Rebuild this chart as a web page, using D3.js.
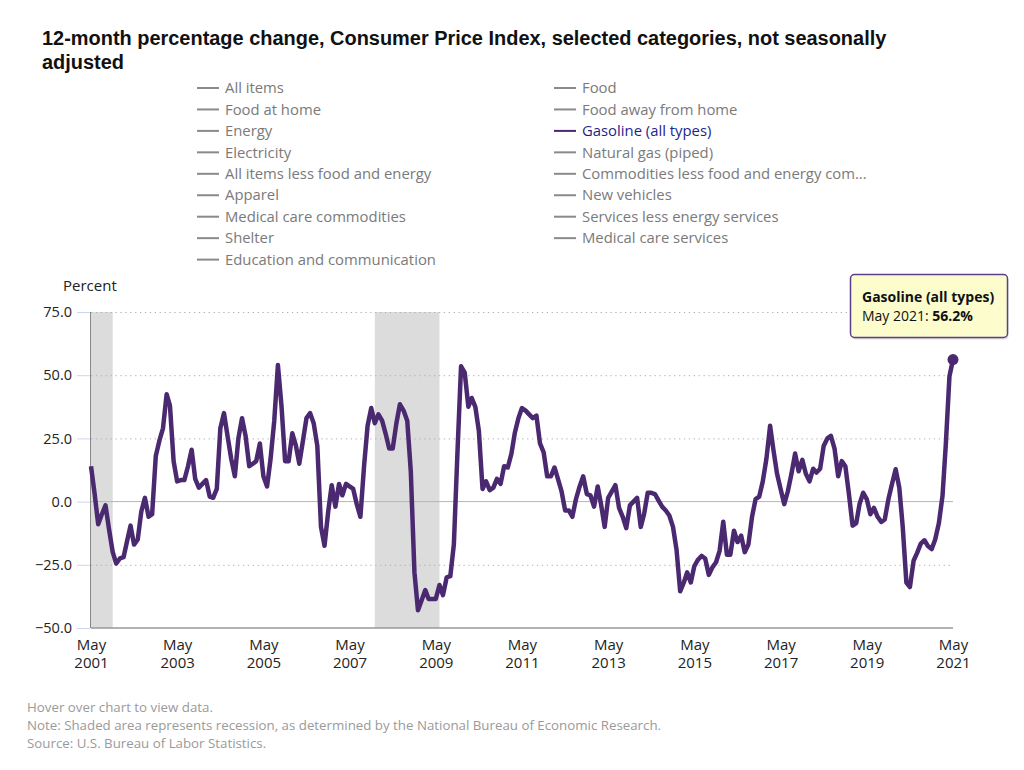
<!DOCTYPE html>
<html>
<head>
<meta charset="utf-8">
<script src="https://cdn.jsdelivr.net/npm/d3@7/dist/d3.min.js"></script>
<style>
  body { margin: 0; background: #fff; }
  svg { display: block; font-family: "Open Sans", sans-serif; }
</style>
</head>
<body>
<svg id="chart" width="1024" height="770"></svg>
<script>
// first month of the series, values are monthly from here on
var startMonth = new Date(2001, 4, 1);

// Gasoline (all types), 12-month % change, May 2001 - May 2021
var gasoline = [
  14, 3, -9, -5, -1.5, -11, -20, -24.5,                         // 2001 May-Dec
  -22.5, -22, -16, -9.5, -17, -15, -4, 1.5, -6, -5, 18, 24,      // 2002
  29, 42.5, 38, 16, 8, 8.5, 8.5, 14, 20.5, 9, 5.5, 7,            // 2003
  8.5, 2, 1.5, 5, 29, 35, 26, 17, 10, 25, 33, 26,                // 2004
  14, 15, 16, 23, 10, 6, 17, 32, 54, 38, 16, 16,                 // 2005
  27, 22, 15, 24, 33, 35, 31, 22, -10, -17.5, -4, 6.5,           // 2006
  -2, 7, 2.5, 7, 6, 5, -1, -6, 14, 30, 37, 31,                   // 2007
  34.5, 32, 27, 21, 21, 31, 38.5, 36, 32, 12, -28, -43,          // 2008
  -39, -35, -38.5, -38.5, -38.5, -33, -37, -30, -29.5, -17, 20, 53.5, // 2009
  51, 37.5, 41, 37.5, 28, 5, 8, 4.5, 5.5, 9, 7, 14,              // 2010
  13.5, 19, 27, 33, 37, 36, 34.5, 33, 34, 23, 19.5, 10,          // 2011
  10, 13.5, 9, 4, -3.5, -3.5, -6, 1, 6, 10, 3, 2.5,              // 2012
  -2, 6, -1, -10, 1.5, 4, 6.5, -2.5, -6, -10.5, -1.5, 0,         // 2013
  1.5, -10, -5, 3.5, 3.5, 3, 0.5, -2, -3.5, -5.5, -10, -19,      // 2014
  -35.5, -32, -28, -32, -25.5, -23, -21.5, -22.5, -29, -26, -24, -19.5, // 2015
  -8, -21, -21, -11.5, -16, -13.5, -20, -17, -6, 1, 2, 8,        // 2016
  17, 30, 20.5, 11, 5, -1, 4, 11, 19, 12, 16.5, 11,              // 2017
  8, 13, 11.5, 13, 22, 25, 26, 21, 10, 16, 14, 3,                // 2018
  -9.5, -8.5, -1, 3.5, 1, -5, -2.5, -6, -8, -7, 1, 7,            // 2019
  12.8, 5.5, -10, -32, -33.8, -23.4, -20.3, -16.6, -15.3, -17.6, -18.8, -15, // 2020
  -8.6, 2.2, 22.5, 49.6, 56.2                                    // 2021 Jan-May
];

var seriesName = "Gasoline (all types)";
var legendLeft = ["All items", "Food at home", "Energy", "Electricity",
  "All items less food and energy", "Apparel", "Medical care commodities",
  "Shelter", "Education and communication"];
var legendRight = ["Food", "Food away from home", "Gasoline (all types)",
  "Natural gas (piped)", "Commodities less food and energy com...",
  "New vehicles", "Services less energy services", "Medical care services"];

var yTicks = [-50, -25, 0, 25, 50, 75];
var xTickYears = [2001, 2003, 2005, 2007, 2009, 2011, 2013, 2015, 2017, 2019, 2021];
var recessions = [
  [new Date(2001, 2, 1), new Date(2001, 10, 1)],
  [new Date(2007, 11, 1), new Date(2009, 5, 1)]
];
var titleLines = ["12-month percentage change, Consumer Price Index, selected categories, not seasonally",
  "adjusted"];
var notes = ["Hover over chart to view data.",
  "Note: Shaded area represents recession, as determined by the National Bureau of Economic Research.",
  "Source: U.S. Bureau of Labor Statistics."];

window.onload = function() {
  var svg = d3.select("#chart"),
      lineColor = "#4a2970",
      plot = {left: 91, right: 953, top: 312, bottom: 628};

  var data = gasoline.map(function(v, i) {
    return {date: d3.timeMonth.offset(startMonth, i), value: v};
  });
  var last = data[data.length - 1];

  var x = d3.scaleTime()
      .domain([startMonth, last.date])
      .range([plot.left, plot.right]);
  var y = d3.scaleLinear()
      .domain([-50, 75])
      .range([plot.bottom, plot.top]);

  // title
  svg.append("g").selectAll("text")
    .data(titleLines)
    .enter().append("text")
      .attr("x", 42)
      .attr("y", function(d, i) { return 45 + i * 24; })
      .attr("font-family", "'Liberation Sans', Arial, sans-serif")
      .attr("font-weight", "bold")
      .attr("font-size", 19.95)
      .attr("fill", "#111")
      .text(function(d) { return d; });

  // legend, two columns
  function legendColumn(names, x0) {
    var item = svg.append("g").selectAll("g")
      .data(names)
      .enter().append("g")
        .attr("transform", function(d, i) { return "translate(" + x0 + "," + (88 + i * 21.45) + ")"; });
    item.append("line")
      .attr("x1", 0).attr("x2", 22)
      .attr("stroke", function(d) { return d === seriesName ? lineColor : "#8a8a8a"; })
      .attr("stroke-width", 2);
    item.append("text")
      .attr("x", 28)
      .attr("dy", "0.35em")
      .attr("font-size", 14.85)
      .attr("fill", function(d) { return d === seriesName ? "#1f1f8a" : "#7a7a7a"; })
      .text(function(d) { return d; });
  }
  legendColumn(legendLeft, 197);
  legendColumn(legendRight, 554);

  // recession shading
  svg.append("g").selectAll("rect")
    .data(recessions)
    .enter().append("rect")
      .attr("x", function(d) { return x(d3.max([d[0], startMonth])); })
      .attr("y", plot.top)
      .attr("width", function(d) { return x(d[1]) - x(d3.max([d[0], startMonth])); })
      .attr("height", plot.bottom - plot.top)
      .attr("fill", "#dcdcdc");

  // dotted grid
  var grid = svg.append("g")
      .attr("transform", "translate(" + plot.left + ",0)")
      .call(d3.axisLeft(y).tickValues(yTicks.filter(function(d) { return d !== 0 && d !== -50; }))
        .tickSize(-(plot.right - plot.left)).tickFormat(""));
  grid.select(".domain").remove();
  grid.selectAll(".tick line")
      .attr("stroke", "#b0b0b0")
      .attr("stroke-dasharray", "1.3,3.6");

  // zero line, bottom and left axis lines
  svg.append("line")
      .attr("x1", plot.left).attr("x2", plot.right)
      .attr("y1", y(0)).attr("y2", y(0))
      .attr("stroke", "#b5b5b5");
  svg.append("line")
      .attr("x1", plot.left).attr("x2", plot.right)
      .attr("y1", y(-50)).attr("y2", y(-50))
      .attr("stroke", "#999").attr("stroke-width", 1.5);
  svg.append("line")
      .attr("x1", plot.left - 0.5).attr("x2", plot.left - 0.5)
      .attr("y1", plot.top).attr("y2", plot.bottom)
      .attr("stroke", "#888");

  // y axis
  var yAxis = svg.append("g")
      .attr("transform", "translate(" + (plot.left - 1) + ",0)")
      .call(d3.axisLeft(y).tickValues(yTicks).tickFormat(d3.format(".1f")).tickSize(13).tickPadding(5));
  yAxis.select(".domain").remove();
  yAxis.selectAll(".tick line").attr("stroke", "#ccd6eb");
  yAxis.selectAll(".tick text")
      .attr("font-family", "'Open Sans', sans-serif")
      .attr("font-size", 14.5)
      .attr("fill", "#222");

  svg.append("text")
      .attr("x", 63).attr("y", 291)
      .attr("font-size", 15)
      .attr("fill", "#222")
      .text("Percent");

  // x axis: month on one row, year below, in one text element
  var xAxis = svg.append("g")
      .attr("transform", "translate(0," + plot.bottom + ")")
      .call(d3.axisBottom(x)
        .tickValues(xTickYears.map(function(yr) { return new Date(yr, 4, 1); }))
        .tickFormat("").tickSize(0));
  xAxis.select(".domain").remove();
  xAxis.selectAll(".tick text").remove();
  var lbl = xAxis.selectAll(".tick").append("text")
      .attr("fill", "#222")
      .attr("text-anchor", "middle")
      .attr("font-family", "'Open Sans', sans-serif")
      .attr("font-size", 15);
  lbl.append("tspan")
      .attr("x", 0).attr("y", 22)
      .text(d3.timeFormat("%b"));
  lbl.append("tspan")
      .attr("x", 0).attr("y", 40)
      .text(d3.timeFormat("%Y"));

  // the series
  var line = d3.line()
      .x(function(d) { return x(d.date); })
      .y(function(d) { return y(d.value); });
  svg.append("path")
      .datum(data)
      .attr("fill", "none")
      .attr("stroke", lineColor)
      .attr("stroke-width", 4.5)
      .attr("stroke-linejoin", "round")
      .attr("d", line);

  svg.append("circle")
      .attr("cx", x(last.date))
      .attr("cy", y(last.value))
      .attr("r", 5.5)
      .attr("fill", lineColor);

  // tooltip for the last point
  var tip = svg.append("g").attr("transform", "translate(850.5,274.5)");
  tip.append("rect")
      .attr("x", 1).attr("y", 2)
      .attr("width", 157).attr("height", 63).attr("rx", 4)
      .attr("fill", "rgba(0,0,0,0.12)");
  tip.append("rect")
      .attr("width", 157).attr("height", 63).attr("rx", 4)
      .attr("fill", "#fcfccc")
      .attr("stroke", "#5b3f8a")
      .attr("stroke-width", 1.5);
  tip.append("text")
      .attr("x", 11.5).attr("y", 27.5)
      .attr("font-size", 14)
      .attr("font-weight", "bold")
      .attr("fill", "#111")
      .text(seriesName);
  var t2 = tip.append("text")
      .attr("x", 11.5).attr("y", 46.5)
      .attr("font-size", 14)
      .attr("fill", "#111");
  t2.append("tspan").text(d3.timeFormat("%b %Y")(last.date) + ": ");
  t2.append("tspan").attr("font-weight", "bold").text(d3.format(".1f")(last.value) + "%");

  // footer notes
  svg.append("g").selectAll("text")
    .data(notes)
    .enter().append("text")
      .attr("x", 27)
      .attr("y", function(d, i) { return 712 + i * 18; })
      .attr("font-size", 13.3)
      .attr("fill", "#9a9a9a")
      .text(function(d) { return d; });
};
</script>
</body>
</html>
